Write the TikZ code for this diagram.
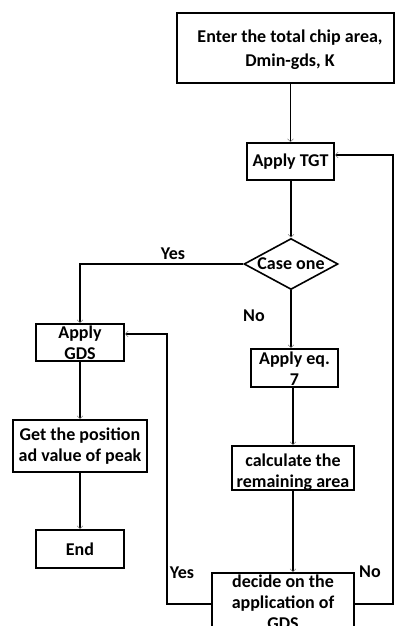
\documentclass[tikz,border=0pt]{standalone}
\usepackage{fontspec}
\setmainfont{Carlito}
\usetikzlibrary{shapes.geometric,arrows.meta}
\begin{document}
\begin{tikzpicture}[x=1pt,y=-1pt,
  box/.style 2 args={draw, line width=1.6pt, minimum width=#1, minimum height=#2, inner sep=0pt},
  txt/.style={font=\bfseries\fontsize{18}{21}\selectfont, align=center, inner sep=0pt},
  conn/.style={line width=1.5pt, -{Straight Barb[length=3pt,width=6pt,line width=0.6pt,color=gray]}},
]
\useasboundingbox (0,0) rectangle (395,626);
% boxes
\node[box={217pt}{70pt}] (start) at (285.5,48) {};
\node[txt, font=\bfseries\fontsize{18}{24}\selectfont] (startt) at (290,50) {Enter the total chip area,\\Dmin-gds, K};
\node[box={87pt}{37pt}] (tgt) at (290.5,161.5) {};
\node[txt] (tgtt) at (290.5,162) {Apply TGT};
\node[draw, diamond, line width=1.6pt, minimum width=94pt, minimum height=51pt, inner sep=0pt] (case) at (291,264) {};
\node[txt] (caset) at (291,264) {Case one};
\node[box={88pt}{37pt}] (gds) at (80,342.5) {};
\node[txt] (gdst) at (80,343) {Apply\\GDS};
\node[box={87pt}{38pt}] (eq7) at (294.5,368) {};
\node[txt] (eq7t) at (294.5,368.5) {Apply eq.\\7};
\node[box={134pt}{52pt}] (pos) at (80,446) {};
\node[txt] (post) at (80,446) {Get the position\\ad value of peak};
\node[box={88pt}{38pt}] (end) at (80,549) {};
\node[txt] (endt) at (80,549) {End};
\node[box={122pt}{44pt}] (calc) at (293,468) {};
\node[txt] (calct) at (293,472.5) {calculate the\\remaining area};
\node[box={142pt}{62pt}] (decide) at (283,604) {};
\node[txt] (decidet) at (283,602) {decide on the\\application of\\GDS};
% labels
\node[txt] (yes1) at (173,254) {Yes};
\node[txt] (no1) at (254,316) {No};
\node[txt] (yes2) at (182,573) {Yes};
\node[txt] (no2) at (370,572) {No};
% connectors
\coordinate (yc) at (167,334);
\coordinate (nc) at (393,155);
\draw[conn] (start.south -| tgt) -- (tgt.north);
\draw[conn] (tgt.south -| case) -- (case.north);
\draw[conn] (case.west) -| (gds.north);
\draw[conn] (case.south) -- (case.south |- eq7.north);
\draw[conn] (eq7.south -| calc) -- (calc.north);
\draw[conn] (calc.south) -- (calc.south |- decide.north);
\draw[conn] (gds.south) -- (pos.north);
\draw[conn] (pos.south) -- (end.north);
\draw[conn] (decide.west) -| (yc) -- (yc -| gds.east);
\draw[conn] (decide.east) -| (nc) -- (nc -| tgt.east);
\end{tikzpicture}
\end{document}
